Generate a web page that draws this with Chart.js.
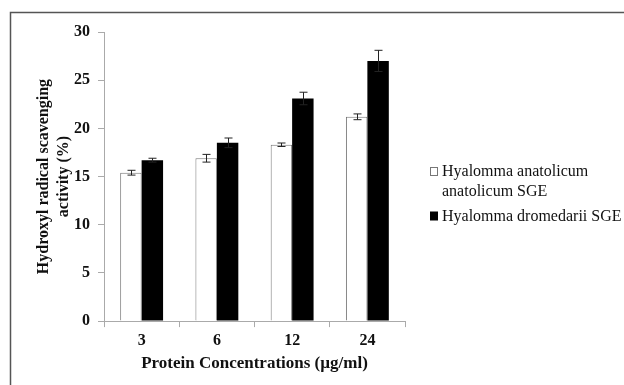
<!DOCTYPE html>
<html>
<head>
<meta charset="utf-8">
<script src="https://cdn.jsdelivr.net/npm/chart.js@4/dist/chart.umd.min.js"></script>
<style>
  html, body { margin: 0; padding: 0; background: #fff; }
  #wrap { width: 624px; height: 385px; position: relative; }
</style>
</head>
<body>
<div id="wrap"><canvas id="myChart"></canvas></div>
<script>
const categories = ['3', '6', '12', '24'];
const seriesLabels = ['Hyalomma anatolicum anatolicum SGE', 'Hyalomma dromedarii SGE'];
const anatolicum = [15.4, 16.9, 18.3, 21.2];
const anatolicumErr = [0.25, 0.4, 0.18, 0.3];
const dromedarii = [16.7, 18.5, 23.1, 27.0];
const dromedariiErr = [0.2, 0.5, 0.65, 1.1];
const yTicks = [0, 5, 10, 15, 20, 25, 30];

const serif = "'Liberation Serif', 'Times New Roman', serif";

// frame round the figure (top and left edges only, like the source)
const framePlugin = {
    id: 'frame',
    beforeDraw(chart) {
        const ctx = chart.ctx;
        ctx.save();
        ctx.strokeStyle = '#555';
        ctx.lineWidth = 1.5;
        ctx.beginPath();
        ctx.moveTo(10.5, 385);
        ctx.lineTo(10.5, 12.5);
        ctx.lineTo(624, 12.5);
        ctx.stroke();
        ctx.restore();
    }
};

// error bars from the err arrays
const errorBars = {
    id: 'errorBars',
    afterDatasetsDraw(chart) {
        const ctx = chart.ctx;
        const y = chart.scales.y;
        const errs = [anatolicumErr, dromedariiErr];
        ctx.save();
        ctx.strokeStyle = '#222';
        ctx.lineWidth = 1;
        chart.data.datasets.forEach((ds, i) => {
            chart.getDatasetMeta(i).data.forEach((bar, j) => {
                const x = Math.round(bar.x) + 0.5;
                const top = y.getPixelForValue(ds.data[j] + errs[i][j]);
                const bot = y.getPixelForValue(ds.data[j] - errs[i][j]);
                ctx.beginPath();
                ctx.moveTo(x, top); ctx.lineTo(x, bot);
                ctx.moveTo(x - 4, top); ctx.lineTo(x + 4, top);
                ctx.moveTo(x - 4, bot); ctx.lineTo(x + 4, bot);
                ctx.stroke();
            });
        });
        ctx.restore();
    }
};

// legend on the right, wrapped like the source
const sideLegend = {
    id: 'sideLegend',
    afterDraw(chart) {
        const ctx = chart.ctx;
        ctx.save();
        ctx.font = '16px ' + serif;
        ctx.textBaseline = 'middle';
        ctx.fillStyle = '#111';
        const x0 = 430, tx = 442, maxW = 180;
        let yy = 172;
        chart.data.datasets.forEach((ds) => {
            // wrap
            const words = ds.label.split(' ');
            const lines = [];
            let cur = '';
            words.forEach(w => {
                const t = cur ? cur + ' ' + w : w;
                if (ctx.measureText(t).width > maxW && cur) { lines.push(cur); cur = w; }
                else cur = t;
            });
            lines.push(cur);
            ctx.fillStyle = ds.backgroundColor;
            ctx.fillRect(x0 + 0.5, yy - 4.5, 7, 8);
            ctx.strokeStyle = ds.borderColor;
            ctx.lineWidth = 1;
            ctx.strokeRect(x0 + 0.5, yy - 4.5, 7, 8);
            ctx.fillStyle = '#111';
            lines.forEach((ln, k) => ctx.fillText(ln, tx, yy + k * 20));
            yy += lines.length * 20 + 4.5;
        });
        ctx.restore();
    }
};

const ctx = document.getElementById('myChart').getContext('2d');
new Chart(ctx, {
    type: 'bar',
    data: {
        labels: categories,
        datasets: [{
            label: seriesLabels[0],
            data: anatolicum,
            backgroundColor: '#ffffff',
            borderColor: '#777',
            borderWidth: 1
        }, {
            label: seriesLabels[1],
            data: dromedarii,
            backgroundColor: '#000000',
            borderColor: '#000',
            borderWidth: 0
        }]
    },
    options: {
        responsive: true,
        maintainAspectRatio: false,
        animation: false,
        layout: { padding: { left: 34, top: 32, right: 219, bottom: 12 } },
        categoryPercentage: 0.57,
        barPercentage: 1,
        plugins: {
            legend: { display: false },
            tooltip: { enabled: false }
        },
        scales: {
            y: {
                min: 0,
                max: 30,
                afterBuildTicks(scale) { scale.ticks = yTicks.map(v => ({ value: v })); },
                afterFit(scale) { scale.width = 70; },
                border: { color: '#aaa', width: 1 },
                grid: { drawOnChartArea: false, color: '#aaa', tickLength: 6 },
                ticks: { color: '#111', padding: 8, font: { family: serif, size: 16, weight: 'bold' } },
                title: {
                    display: true,
                    text: ['Hydroxyl radical scavenging', 'activity (%)'],
                    color: '#111',
                    padding: { top: 0, bottom: 4 },
                    font: { family: serif, size: 16, weight: 'bold', lineHeight: 1.25 }
                }
            },
            x: {
                border: { color: '#aaa', width: 1 },
                grid: { drawOnChartArea: false, color: '#aaa', tickLength: 6, offset: true },
                ticks: { color: '#111', padding: 4, font: { family: serif, size: 16, weight: 'bold' } },
                title: {
                    display: true,
                    text: 'Protein Concentrations (\u00b5g/ml)',
                    color: '#111',
                    padding: { top: 0, bottom: 0 },
                    font: { family: serif, size: 17, weight: 'bold', lineHeight: 1.1 }
                }
            }
        }
    },
    plugins: [framePlugin, errorBars, sideLegend]
});
</script>
</body>
</html>
